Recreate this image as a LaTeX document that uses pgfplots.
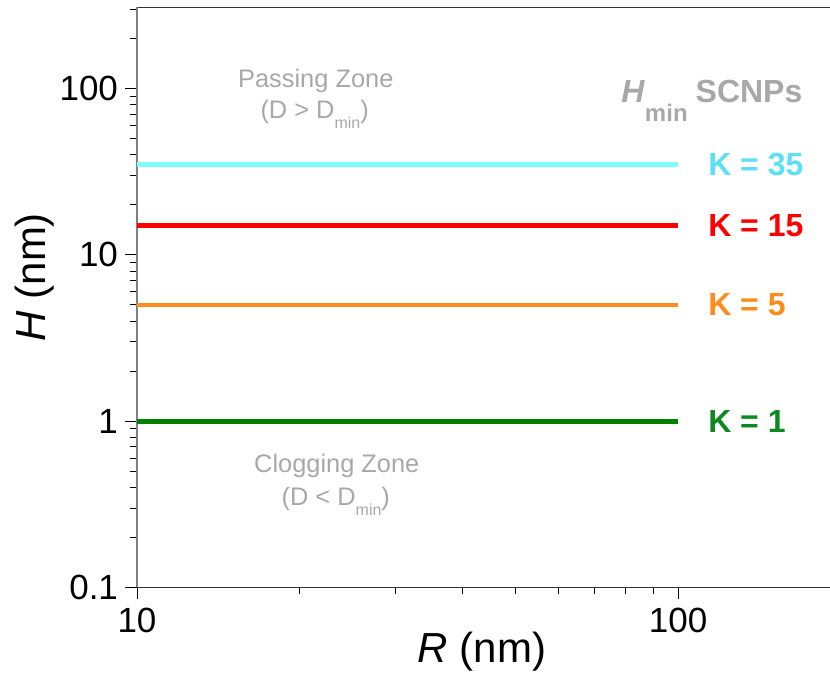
\documentclass[border=0pt]{standalone}
\usepackage{pgfplots}
\pgfplotsset{compat=1.18}
\usepackage{fontspec}
\setmainfont{Liberation Sans}
\definecolor{cyanline}{HTML}{80FFFF}
\definecolor{cyanlab}{HTML}{5CE0F5}
\definecolor{redline}{HTML}{FF0000}
\definecolor{orangeline}{HTML}{FF8C1A}
\definecolor{greenline}{HTML}{008000}
\definecolor{greenlab}{HTML}{0C8A1E}
\definecolor{zonegray}{HTML}{A8A8A8}
\begin{document}
\begin{tikzpicture}
\begin{axis}[
  scale only axis,
  width=346.5pt, height=290pt,
  xmode=log, ymode=log,
  xmin=10, xmax=190.9,
  ymin=0.1, ymax=307.5,
  separate axis lines,
  axis x line*=box,
  axis y line*=left,
  x axis line style={draw=black!80, line width=0.6pt},
  y axis line style={draw=black!50, line width=1pt},
  xtick pos=bottom, ytick pos=left,
  tick align=outside,
  major tick length=6pt, minor tick length=3.5pt,
  every tick/.style={black, line width=0.5pt},
  xtick={10,100}, xticklabels={10,100},
  minor xtick={20,30,40,50,60,70,80,90},
  ytick={0.1,1,10,100}, yticklabels={0.1,1,10,100},
  minor ytick={0.2,0.3,0.4,0.5,0.6,0.7,0.8,0.9,2,3,4,5,6,7,8,9,20,30,40,50,60,70,80,90,200,300},
  tick label style={font=\fontsize{17.5}{20}\selectfont},
  xticklabel style={yshift=-1pt},
  xlabel={\fontsize{21}{24}\selectfont\textit{R} (nm)},
  ylabel={\fontsize{21}{24}\selectfont\textit{H} (nm)},
  xlabel style={at={(axis description cs:0.498,-0.110)}, anchor=center},
  ylabel style={at={(axis description cs:-0.147,0.535)}, anchor=center, rotate=0},
]
\addplot[cyanline, line width=2.4pt] coordinates {(10,35) (100,35)};
\addplot[redline, line width=2.4pt] coordinates {(10,15) (100,15)};
\addplot[orangeline, line width=2.4pt] coordinates {(10,5) (100,5)};
\addplot[greenline, line width=2.4pt] coordinates {(10,1) (100,1)};

\node[anchor=west, inner sep=0pt, text=cyanlab, font=\fontsize{16}{18}\selectfont\bfseries] at (axis cs:113.5,35) {K = 35};
\node[anchor=west, inner sep=0pt, text=redline, font=\fontsize{16}{18}\selectfont\bfseries] at (axis cs:113.5,15) {K = 15};
\node[anchor=west, inner sep=0pt, text=orangeline, font=\fontsize{16}{18}\selectfont\bfseries] at (axis cs:113.5,5) {K = 5};
\node[anchor=west, inner sep=0pt, text=greenlab, font=\fontsize{16}{18}\selectfont\bfseries] at (axis cs:113.5,1) {K = 1};

\node[anchor=base east, inner sep=0pt, text=zonegray, font=\fontsize{16}{18}\selectfont\bfseries] at (axis cs:170,82.4) {\textit{H}\raisebox{-9.5pt}{\fontsize{12}{14}\selectfont min}\hspace{4pt}SCNPs};

\node[anchor=base, inner sep=0pt, text=zonegray, font=\fontsize{12.7}{15}\selectfont] at (axis cs:21.4,101.4) {Passing Zone};
\node[anchor=base, inner sep=0pt, text=zonegray, font=\fontsize{12.7}{15}\selectfont] at (axis cs:21.3,66.0) {(D > D\raisebox{-5pt}{\fontsize{8}{9}\selectfont min})};
\node[anchor=base, inner sep=0pt, text=zonegray, font=\fontsize{12.7}{15}\selectfont] at (axis cs:23.4,0.491) {Clogging Zone};
\node[anchor=base, inner sep=0pt, text=zonegray, font=\fontsize{12.7}{15}\selectfont] at (axis cs:23.3,0.311) {(D < D\raisebox{-5pt}{\fontsize{8}{9}\selectfont min})};
\end{axis}
\pgfresetboundingbox
\path ([xshift=-68.5pt,yshift=-43pt]current axis.south west) rectangle ([yshift=3.75pt]current axis.north east);
\end{tikzpicture}
\end{document}
